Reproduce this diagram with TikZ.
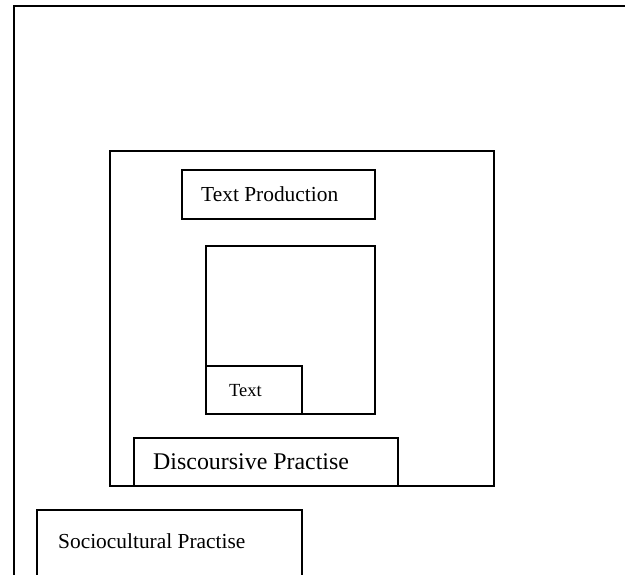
\documentclass[tikz,border=0pt]{standalone}
\usepackage{fontspec}
\setmainfont{Liberation Serif}
\usetikzlibrary{positioning,calc}
\tikzstyle{fbox}=[rectangle, draw=black, line width=1.8pt, inner sep=0pt,
                  anchor=north west]
\tikzstyle{lbl}=[anchor=base west, inner sep=0pt]
\begin{document}
\begin{tikzpicture}[x=1pt,y=-1pt]
\clip (0,0) rectangle (625,575);

\node (SOC) [fbox, line width=2.2pt, minimum width=700pt, minimum height=700pt] at (13,5) {};

\node (DISCP) [fbox, minimum width=384pt, minimum height=335pt] at (109,150) {};

\node (TPROD) [fbox, minimum width=193pt, minimum height=49pt] at (181,169) {};
\node (TPRODL) [lbl] at ($(TPROD.north west)+(20,33)$) {\fontsize{21.4}{24}\selectfont Text Production};

\node (INNER) [fbox, minimum width=169pt, minimum height=168pt] at (205,245) {};

\node (TXT) [fbox, minimum width=96pt, minimum height=48pt, anchor=south west] at (INNER.south west) {};
\node (TXTL) [lbl] at ($(TXT.north west)+(24,31)$) {\fontsize{18.5}{22}\selectfont Text};

\node (DISC) [fbox, minimum width=264pt, minimum height=48pt] at (133,437) {};
\node (DISCL) [lbl] at ($(DISC.north west)+(20,32)$) {\fontsize{23.9}{28}\selectfont Discoursive Practise};

\node (SOCB) [fbox, minimum width=265pt, minimum height=120pt] at (36,509) {};
\node (SOCL) [lbl] at ($(SOCB.north west)+(22,39)$) {\fontsize{21.4}{25}\selectfont Sociocultural Practise};

\end{tikzpicture}
\end{document}
